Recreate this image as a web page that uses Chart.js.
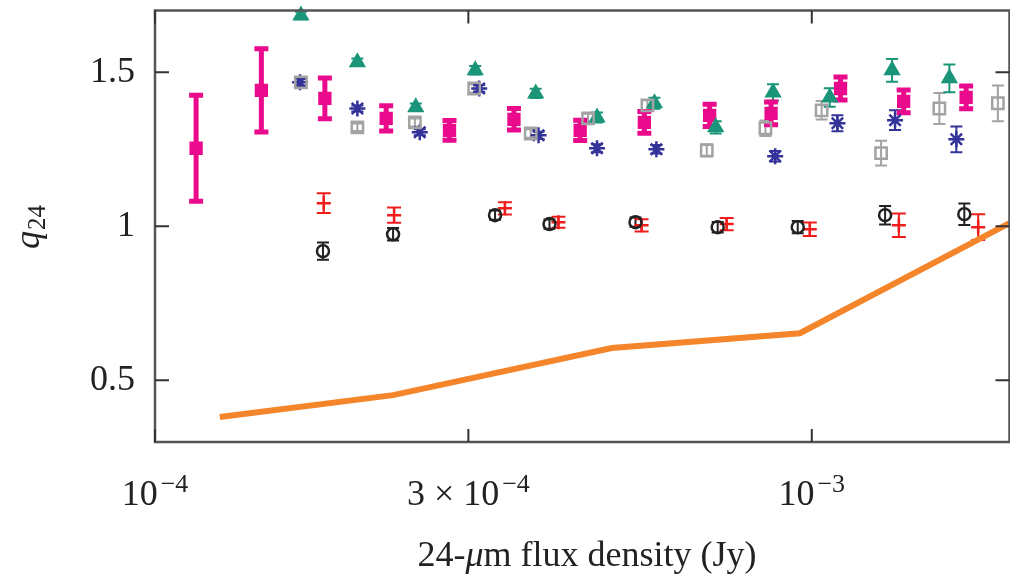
<!DOCTYPE html>
<html>
<head>
<meta charset="utf-8">
<script src="https://cdn.jsdelivr.net/npm/chart.js@4.4.1/dist/chart.umd.min.js"></script>
<style>
  html, body { margin: 0; padding: 0; background: #fff; overflow: hidden; }
  canvas { display: block; }
</style>
</head>
<body>
<canvas id="q24chart" width="1020" height="578" style="width:1020px;height:578px"></canvas>
<script>
// values: 24-um flux density (Jy) vs q24
var magentaFlux = [1.155e-4, 1.452e-4, 1.814e-4, 2.249e-4, 2.808e-4, 3.52e-4, 4.44e-4, 5.56e-4, 6.99e-4, 8.67e-4, 1.106e-3, 1.380e-3, 1.718e-3];
var magentaQ    = [1.253, 1.441, 1.415, 1.350, 1.311, 1.347, 1.311, 1.337, 1.360, 1.366, 1.447, 1.405, 1.418];
var magentaErr  = [0.172, 0.135, 0.066, 0.041, 0.032, 0.035, 0.033, 0.035, 0.036, 0.037, 0.037, 0.037, 0.037];

var tealFlux = [1.668e-4, 2.033e-4, 2.495e-4, 3.073e-4, 3.799e-4, 4.71e-4, 5.76e-4, 7.14e-4, 8.73e-4, 1.065e-3, 1.325e-3, 1.620e-3];
var tealQ    = [1.684, 1.532, 1.386, 1.506, 1.431, 1.353, 1.399, 1.321, 1.434, 1.418, 1.506, 1.480];
var tealErr  = [0.012, 0.012, 0.012, 0.014, 0.015, 0.016, 0.018, 0.020, 0.027, 0.030, 0.037, 0.045];

var greyFlux = [1.668e-4, 2.033e-4, 2.487e-4, 3.062e-4, 3.733e-4, 4.564e-4, 5.62e-4, 6.92e-4, 8.50e-4, 1.035e-3, 1.275e-3, 1.564e-3, 1.920e-3];
var greyQ    = [1.467, 1.321, 1.337, 1.447, 1.301, 1.350, 1.392, 1.246, 1.318, 1.376, 1.237, 1.382, 1.399];
var greyErr  = [0.012, 0.012, 0.013, 0.013, 0.014, 0.015, 0.017, 0.020, 0.025, 0.030, 0.040, 0.050, 0.058];

var blueFlux = [1.663e-4, 2.033e-4, 2.530e-4, 3.116e-4, 3.837e-4, 4.71e-4, 5.80e-4, 8.795e-4, 1.094e-3, 1.339e-3, 1.660e-3];
var blueQ    = [1.467, 1.382, 1.305, 1.447, 1.295, 1.253, 1.250, 1.227, 1.334, 1.344, 1.282];
var blueErr  = [0.010, 0.010, 0.010, 0.011, 0.012, 0.013, 0.014, 0.017, 0.026, 0.032, 0.042];

var blackFlux = [1.802e-4, 2.304e-4, 3.294e-4, 3.987e-4, 5.39e-4, 7.19e-4, 9.52e-4, 1.293e-3, 1.707e-3];
var blackQ    = [0.919, 0.974, 1.036, 1.007, 1.013, 0.997, 0.997, 1.036, 1.039];
var blackErr  = [0.028, 0.020, 0.015, 0.015, 0.015, 0.017, 0.020, 0.030, 0.035];

var redFlux = [1.807e-4, 2.312e-4, 3.41e-4, 4.114e-4, 5.506e-4, 7.42e-4, 9.93e-4, 1.357e-3, 1.792e-3];
var redQ    = [1.075, 1.036, 1.058, 1.013, 1.003, 1.007, 0.990, 1.003, 0.997];
var redErr  = [0.032, 0.025, 0.020, 0.018, 0.020, 0.020, 0.022, 0.038, 0.042];

var orangeFlux = [1.255e-4, 2.304e-4, 4.96e-4, 9.59e-4, 2.0e-3];
var orangeQ    = [0.381, 0.452, 0.605, 0.653, 1.010];

var xTickValues = [1e-4, 3e-4, 1e-3];
var xTickLabels = [['10', '\u22124'], ['3 \u00d7 10', '\u22124'], ['10', '\u22123']];
var yTickValues = [0.5, 1, 1.5];
var yTickLabels = ['0.5', '1', '1.5'];

var SERIF = '"Liberation Serif", "DejaVu Serif", serif';

function pts(xs, ys) {
  return xs.map(function (x, i) { return { x: x, y: ys[i] }; });
}

function series(label, xs, ys, errs, color, style, extra) {
  var ds = {
    label: label,
    data: pts(xs, ys),
    errors: errs,
    borderColor: color,
    backgroundColor: color,
    pointStyle: style,
    pointRadius: 6,
    pointBorderWidth: 2,
    showLine: false,
    clip: false,
    errWidth: 2,
    capHalf: 6
  };
  for (var k in extra) ds[k] = extra[k];
  return ds;
}

var errorBars = {
  id: 'errorBars',
  beforeDatasetsDraw: function (chart) {
    var ctx = chart.ctx, xs = chart.scales.x, ys = chart.scales.y;
    ctx.save();
    chart.data.datasets.forEach(function (ds) {
      if (!ds.errors) return;
      ctx.strokeStyle = ds.borderColor;
      ctx.lineWidth = ds.errWidth;
      ds.data.forEach(function (p, i) {
        var px = xs.getPixelForValue(p.x);
        var top = ys.getPixelForValue(p.y + ds.errors[i]);
        var bot = ys.getPixelForValue(p.y - ds.errors[i]);
        ctx.beginPath();
        ctx.moveTo(px, top); ctx.lineTo(px, bot);
        ctx.moveTo(px - ds.capHalf, top); ctx.lineTo(px + ds.capHalf, top);
        ctx.moveTo(px - ds.capHalf, bot); ctx.lineTo(px + ds.capHalf, bot);
        ctx.stroke();
      });
    });
    ctx.restore();
  }
};

var frame = {
  id: 'frame',
  afterDraw: function (chart) {
    var ctx = chart.ctx, a = chart.chartArea, xs = chart.scales.x, ys = chart.scales.y;
    ctx.save();
    ctx.strokeStyle = '#555';
    ctx.lineWidth = 2.5;
    ctx.strokeRect(a.left, a.top, a.right - a.left, a.bottom - a.top);

    // inward tick marks on all four sides
    ctx.strokeStyle = '#333';
    ctx.lineWidth = 2;
    ctx.beginPath();
    yTickValues.forEach(function (v) {
      var py = ys.getPixelForValue(v);
      ctx.moveTo(a.left, py); ctx.lineTo(a.left + 14, py);
      ctx.moveTo(a.right, py); ctx.lineTo(a.right - 14, py);
    });
    xTickValues.forEach(function (v) {
      var px = xs.getPixelForValue(v);
      ctx.moveTo(px, a.bottom); ctx.lineTo(px, a.bottom - 13);
      ctx.moveTo(px, a.top); ctx.lineTo(px, a.top + 13);
    });
    ctx.stroke();

    // x tick labels with superscripts
    ctx.fillStyle = '#222';
    ctx.textBaseline = 'alphabetic';
    ctx.textAlign = 'left';
    xTickValues.forEach(function (v, i) {
      var px = xs.getPixelForValue(v);
      ctx.font = '36px ' + SERIF;
      var wb = ctx.measureText(xTickLabels[i][0]).width;
      ctx.font = '26px ' + SERIF;
      var we = ctx.measureText(xTickLabels[i][1]).width;
      var x0 = px - (wb + 3 + we) / 2;
      ctx.font = '36px ' + SERIF;
      ctx.fillText(xTickLabels[i][0], x0, 505);
      ctx.font = '26px ' + SERIF;
      ctx.fillText(xTickLabels[i][1], x0 + wb + 3, 492);
    });

    // x axis title
    var parts = [['24-', ''], ['\u03bc', 'italic '], ['m flux density (Jy)', '']];
    var total = 0;
    parts.forEach(function (p) { ctx.font = p[1] + '36px ' + SERIF; total += ctx.measureText(p[0]).width; });
    var tx = 587 - total / 2;
    parts.forEach(function (p) {
      ctx.font = p[1] + '36px ' + SERIF;
      ctx.fillText(p[0], tx, 566);
      tx += ctx.measureText(p[0]).width;
    });

    // y axis title q24
    ctx.translate(39, 227);
    ctx.rotate(-Math.PI / 2);
    ctx.font = 'italic 36px ' + SERIF;
    var wq = ctx.measureText('q').width;
    ctx.font = '25px ' + SERIF;
    var ws = ctx.measureText('24').width;
    var sx = -(wq + 1 + ws) / 2;
    ctx.font = 'italic 36px ' + SERIF;
    ctx.fillText('q', sx, 0);
    ctx.font = '25px ' + SERIF;
    ctx.fillText('24', sx + wq + 1, 6);
    ctx.restore();
  }
};

new Chart(document.getElementById('q24chart'), {
  type: 'scatter',
  data: {
    datasets: [
      {
        label: 'model',
        data: pts(orangeFlux, orangeQ),
        showLine: true,
        borderColor: '#f5852a',
        backgroundColor: '#f5852a',
        borderWidth: 6,
        pointRadius: 0,
        fill: false,
        clip: false
      },
      series('grey', greyFlux, greyQ, greyErr, '#a3a3a3', 'rect', { pointRadius: 8, pointBorderWidth: 2.5, backgroundColor: 'rgba(0,0,0,0)' }),
      series('blue', blueFlux, blueQ, blueErr, '#33339a', 'star', { pointRadius: 8, pointBorderWidth: 2.5 }),
      series('teal', tealFlux, tealQ, tealErr, '#1b9579', 'triangle', { pointRadius: 8 }),
      series('black', blackFlux, blackQ, blackErr, '#222222', 'circle', { pointRadius: 6, pointBorderWidth: 2.5, backgroundColor: 'rgba(0,0,0,0)' }),
      series('red', redFlux, redQ, redErr, '#f01c1c', 'cross', { pointRadius: 7, pointBorderWidth: 2.5, capHalf: 7 }),
      series('magenta', magentaFlux, magentaQ, magentaErr, '#ea0a8c', 'rect', { pointRadius: 8, errWidth: 5, capHalf: 7 })
    ]
  },
  options: {
    responsive: false,
    animation: false,
    devicePixelRatio: 1,
    layout: { padding: { left: 10, top: 10, right: 1, bottom: 0 } },
    plugins: { legend: { display: false }, tooltip: { enabled: false } },
    scales: {
      x: {
        type: 'logarithmic',
        min: 1e-4,
        max: 2e-3,
        grid: { display: false, drawTicks: false },
        border: { display: false },
        ticks: { display: false },
        afterBuildTicks: function (s) { s.ticks = xTickValues.map(function (v) { return { value: v }; }); },
        afterFit: function (s) { s.height = 136; s.paddingLeft = 0; s.paddingRight = 0; }
      },
      y: {
        min: 0.3,
        max: 1.7,
        grid: { display: false, drawTicks: false },
        border: { display: false },
        afterBuildTicks: function (s) { s.ticks = yTickValues.map(function (v) { return { value: v }; }); },
        afterFit: function (s) { s.width = 145; s.paddingTop = 0; s.paddingBottom = 0; },
        ticks: {
          padding: 20,
          color: '#222',
          font: { family: SERIF, size: 36 },
          callback: function (v) { return yTickLabels[yTickValues.indexOf(v)]; }
        }
      }
    }
  },
  plugins: [errorBars, frame]
});
</script>
</body>
</html>
